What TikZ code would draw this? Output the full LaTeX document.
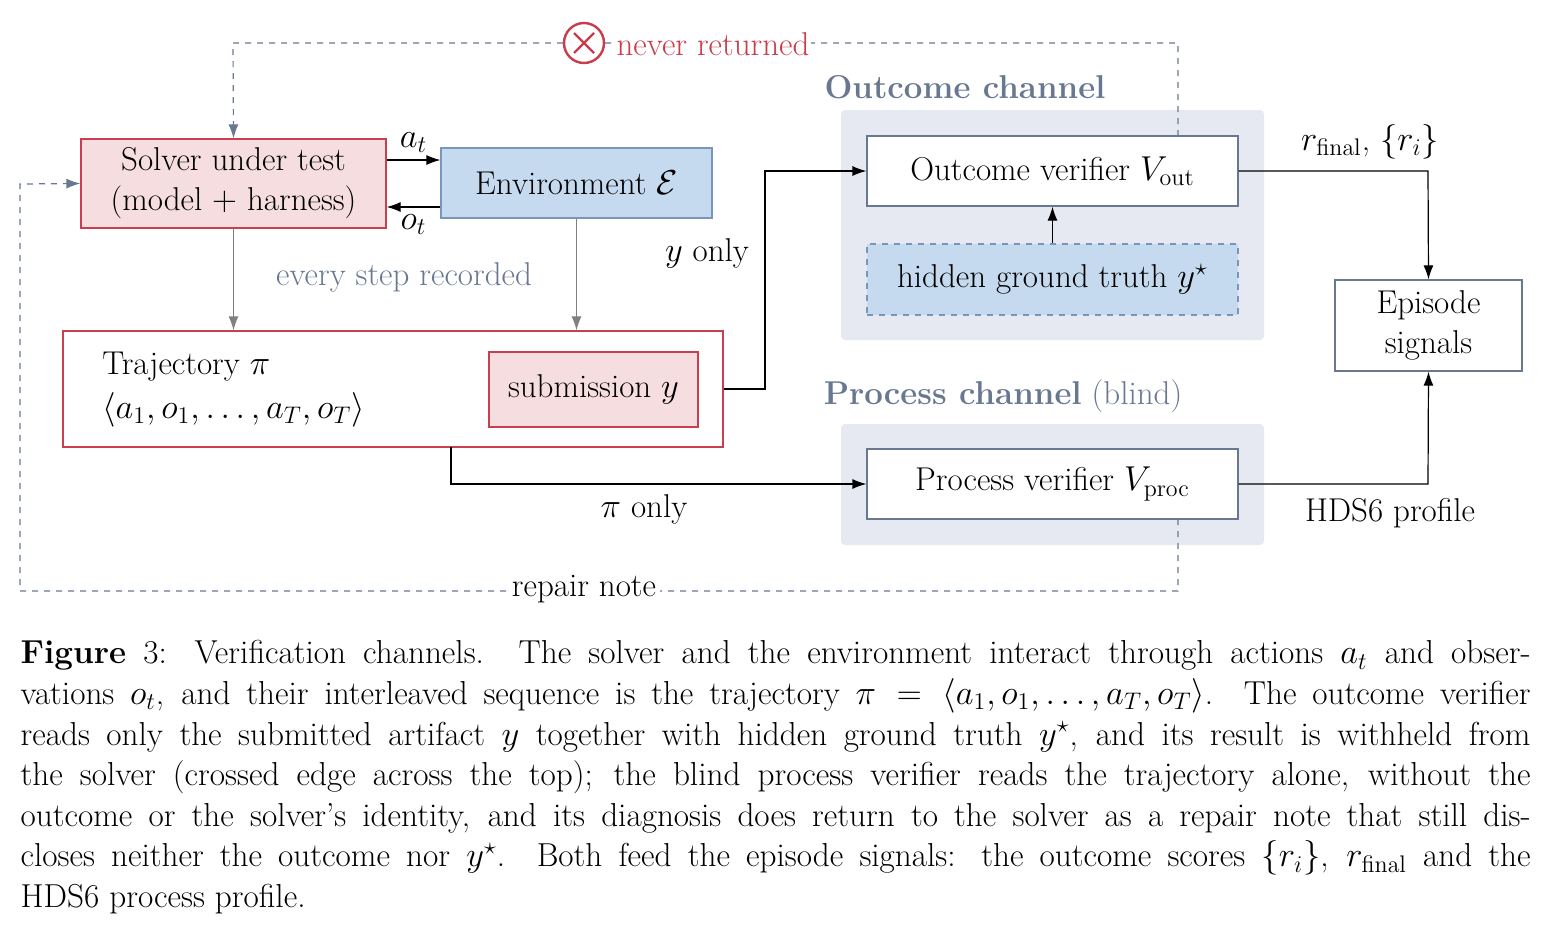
\documentclass[tikz,border=0pt]{standalone}
\usepackage{amsmath,amssymb}
\usetikzlibrary{positioning,arrows.meta,calc}
\definecolor{solverfill}{RGB}{245,221,224}
\definecolor{solverline}{RGB}{200,64,80}
\definecolor{envfill}{RGB}{197,218,238}
\definecolor{envline}{RGB}{120,150,185}
\definecolor{panelfill}{RGB}{230,233,241}
\definecolor{slate}{RGB}{105,120,145}
\definecolor{alertred}{RGB}{200,60,75}
\tikzset{
  every picture/.style={line width=0.6pt},
  redbox/.style={draw=solverline, fill=solverfill, align=center, inner sep=0pt},
  bluebox/.style={draw=envline, fill=envfill, align=center, inner sep=0pt},
  plainbox/.style={draw=slate, fill=white, align=center, inner sep=0pt},
  panel/.style={fill=panelfill, rounded corners=2pt},
  flow/.style={-{Latex[length=7pt,width=5pt]}, black},
  logflow/.style={-{Latex[length=7pt,width=5pt]}, gray},
  loopback/.style={-{Latex[length=7pt,width=5pt]}, slate, dashed},
  txt/.style={font=\fontsize{16.5}{20}\selectfont}
}
\begin{document}
\begin{tikzpicture}[x=0.5pt,y=-0.5pt,txt]
  \useasboundingbox (0,0) rectangle (1548,927);

  % panels
  \fill [panelfill, rounded corners=2pt] (841,110) rectangle (1264,340);
  \fill [panelfill, rounded corners=2pt] (841,424) rectangle (1264,545);
  \node (outlabel) at (965,87) {\textcolor{slate}{\bfseries Outcome channel}};
  \node (proclabel) at (1003,396) {\textcolor{slate}{\bfseries Process channel} \textcolor{slate}{(blind)}};

  % boxes
  \node [redbox, minimum width=152.5pt, minimum height=44.5pt] (solver) at (233.5,183.5) {Solver under test\\(model $+$ harness)};
  \node [bluebox, minimum width=135.5pt, minimum height=35pt] (env) at (576.5,183) {Environment $\mathcal{E}$};
  \node [draw=solverline, fill=white, minimum width=330pt, minimum height=58pt] (traj) at (393,389) {};
  \node [anchor=west] (trajname) at (95,367) {Trajectory $\pi$};
  \node [anchor=west] (trajseq) at (95,410) {$\langle a_1,o_1,\dots,a_T,o_T\rangle$};
  \node [redbox, minimum width=104.5pt, minimum height=37.5pt] (sub) at (593.5,389.5) {submission $y$};
  \node [plainbox, minimum width=185.5pt, minimum height=35pt] (outver) at (1052.5,171) {Outcome verifier $V_{\mathrm{out}}$};
  \node [bluebox, dashed, minimum width=185.5pt, minimum height=35.5pt] (truth) at (1052.5,279.5) {hidden ground truth $y^{\star}$};
  \node [plainbox, minimum width=185.5pt, minimum height=35pt] (procver) at (1052.5,484) {Process verifier $V_{\mathrm{proc}}$};
  \node [plainbox, minimum width=93.5pt, minimum height=45.5pt] (episode) at (1428.5,325.5) {Episode\\signals};

  % interaction
  \draw [flow] ($(solver.east)+(0,-23.5)$) -- node[above] {$a_t$} ($(env.west)+(0,-23)$);
  \draw [flow] ($(env.west)+(0,24)$) -- node[below] {$o_t$} ($(solver.east)+(0,23.5)$);
  \draw [logflow] (solver.south) -- (solver.south |- traj.north);
  \draw [logflow] (env.south) -- (env.south |- traj.north);
  \node (steplabel) at (404,277) {\textcolor{slate}{every step recorded}};

  % channels
  \draw [flow] (traj.east) -- (765,389) -- (765,171) -- (outver.west);
  \node (yonly) at (707,253) {$y$ only};
  \draw [flow] (451,447) -- (451,484) -- (procver.west);
  \node (pionly) at (644,509) {$\pi$ only};
  \draw [flow] (truth.north) -- (outver.south);
  \draw [flow] (outver.east) -- (1428,171) -- (episode.north);
  \node (rlabel) at (1370,142) {$r_{\mathrm{final}}$, $\{r_i\}$};
  \draw [flow] (procver.east) -- (1428,484) -- (episode.south);
  \node (hdslabel) at (1390,513) {HDS6 profile};

  % feedback
  \draw [loopback] (1178,136) -- (1178,43) -- (233,43) -- (solver.north);
  \node [circle, draw=alertred, fill=white, line width=1.2pt, minimum size=20pt, inner sep=0pt] (cross) at (584,43) {};
  \draw [alertred, line width=1.2pt] ($(cross)+(-10,-10)$) -- ($(cross)+(10,10)$) ($(cross)+(-10,10)$) -- ($(cross)+(10,-10)$);
  \node [fill=white, inner sep=1pt] (neverlabel) at (713,44) {\textcolor{alertred}{never returned}};
  \draw [loopback] (1178,519) -- (1178,591) -- (20,591) -- (20,184) -- (solver.west);
  \node [fill=white, inner sep=2pt] (repairlabel) at (584,589) {repair note};

  % caption
  \node [anchor=north west, text width=755pt, align=justify, inner sep=0pt,
         font=\fontsize{16.6}{20.3}\selectfont] (caption) at (20,640) {%
    \textbf{Figure} 3: Verification channels. The solver and the environment interact through actions $a_t$ and obser-\linebreak
    vations $o_t$, and their interleaved sequence is the trajectory $\pi=\langle a_1,o_1,\dots,a_T,o_T\rangle$. The outcome verifier\linebreak
    reads only the submitted artifact $y$ together with hidden ground truth $y^{\star}$, and its result is withheld from\linebreak
    the solver (crossed edge across the top); the blind process verifier reads the trajectory alone, without the\linebreak
    outcome or the solver's identity, and its diagnosis does return to the solver as a repair note that still dis-\linebreak
    closes neither the outcome nor $y^{\star}$. Both feed the episode signals: the outcome scores $\{r_i\}$, $r_{\mathrm{final}}$ and the\linebreak
    HDS6 process profile.};
\end{tikzpicture}
\end{document}
